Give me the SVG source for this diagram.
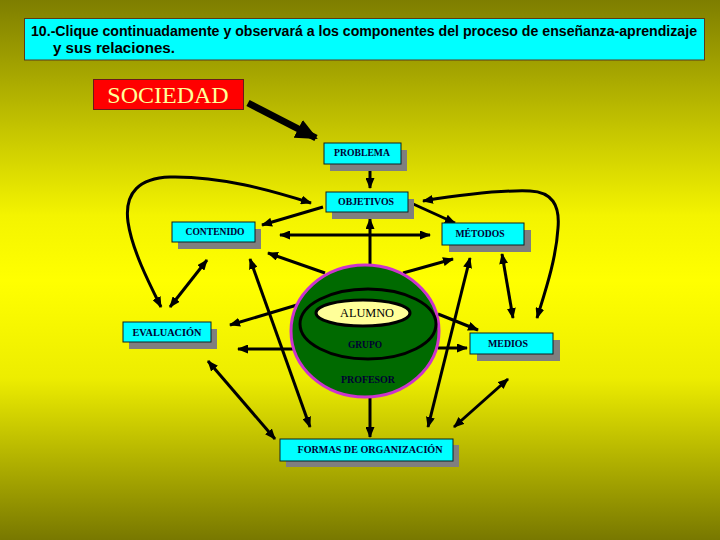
<svg xmlns="http://www.w3.org/2000/svg" width="720" height="540" viewBox="0 0 720 540">
<defs>
<linearGradient id="bg" x1="0" y1="0" x2="0" y2="1">
<stop offset="0" stop-color="#7e7e00"/>
<stop offset="0.4" stop-color="#f4f400"/>
<stop offset="0.52" stop-color="#ffff00"/>
<stop offset="0.7" stop-color="#eded00"/>
<stop offset="1" stop-color="#787800"/>
</linearGradient>
<marker id="ah" markerUnits="userSpaceOnUse" markerWidth="11" markerHeight="9" refX="10" refY="4.5" orient="auto-start-reverse" viewBox="0 0 11 9">
<path d="M0,0 L11,4.5 L0,9 z" fill="#000"/>
</marker>
<marker id="big" markerUnits="userSpaceOnUse" markerWidth="22" markerHeight="20" refX="20" refY="10" orient="auto" viewBox="0 0 22 20">
<path d="M0,0 L22,10 L0,20 z" fill="#000"/>
</marker>
</defs>
<style>
.box{fill:#00ffff;stroke:#102020;stroke-width:1}
.sh{fill:#7f7f7f}
.lbl{font-family:"Liberation Serif","Times New Roman",serif;font-weight:bold;font-size:10px;fill:#000033;text-anchor:middle}
.c{fill:none;stroke:#000;stroke-width:3}
.d{marker-start:url(#ah);marker-end:url(#ah)}
.e{marker-end:url(#ah)}
.title{font-family:"Liberation Sans",Arial,sans-serif;font-weight:bold;font-size:14px;fill:#000}
</style>
<rect x="0" y="0" width="720" height="540" fill="url(#bg)"/>

<g id="titulo">
<rect x="24.5" y="18.5" width="680" height="41.5" fill="#00ffff" stroke="#5a3a1a" stroke-width="1"/>
<text class="title" x="31" y="36" textLength="666" lengthAdjust="spacingAndGlyphs">10.-Clique continuadamente y  observará  a los componentes del proceso de enseñanza-aprendizaje</text>
<text class="title" x="53" y="53" textLength="122" lengthAdjust="spacingAndGlyphs">y  sus  relaciones.</text>
</g>

<g id="connectors">
<line x1="248" y1="103" x2="316" y2="138" stroke="#000" stroke-width="7" marker-end="url(#big)"/>
<line class="c e" x1="370" y1="169" x2="370" y2="188"/>
<path class="c d" d="M161,307 C150,285 132,250 128,222 C124,192 140,178 170,177 C220,176 270,190 311,203"/>
<path class="c d" d="M423,201 C460,195 500,190 530,191 C552,192 560,205 558,228 C556,260 545,292 537,318"/>
<line class="c e" x1="323" y1="207" x2="262" y2="225"/>
<line class="c e" x1="411" y1="203" x2="455" y2="223"/>
<line class="c d" x1="280" y1="235" x2="430" y2="235"/>
<line class="c e" x1="370" y1="266" x2="370" y2="219"/>
<line class="c e" x1="325" y1="273" x2="268" y2="253"/>
<line class="c e" x1="403" y1="273" x2="453" y2="259"/>
<line class="c d" x1="207" y1="260" x2="170" y2="307"/>
<line class="c d" x1="250" y1="259" x2="310" y2="427"/>
<line class="c d" x1="470" y1="258" x2="428" y2="427"/>
<line class="c d" x1="502" y1="254" x2="513" y2="318"/>
<line class="c e" x1="297" y1="305" x2="230" y2="325"/>
<line class="c e" x1="293" y1="349" x2="238" y2="349"/>
<line class="c e" x1="438" y1="314" x2="478" y2="330"/>
<line class="c e" x1="438" y1="348" x2="467" y2="348"/>
<line class="c d" x1="208" y1="361" x2="275" y2="439"/>
<line class="c d" x1="508" y1="379" x2="454" y2="427"/>
<line class="c e" x1="370" y1="397" x2="370" y2="437"/>
</g>

<g id="sociedad">
<rect x="93.5" y="79.5" width="150" height="30" fill="#ff0000" stroke="#6a1a1a" stroke-width="1"/>
<text x="168" y="103" font-family="Liberation Serif,'Times New Roman',serif" font-size="24" fill="#ffff99" text-anchor="middle">SOCIEDAD</text>
</g>

<g id="problema">
<rect class="sh" x="330" y="150" width="77" height="21"/>
<rect class="box" x="324" y="143" width="77" height="21"/>
<text class="lbl" x="362" y="156" textLength="56" lengthAdjust="spacingAndGlyphs">PROBLEMA</text>
</g>

<g id="objetivos">
<rect class="sh" x="332" y="199" width="82" height="20"/>
<rect class="box" x="326" y="192" width="82" height="20"/>
<text class="lbl" x="366" y="204.5" textLength="56" lengthAdjust="spacingAndGlyphs">OBJETIVOS</text>
</g>

<g id="contenido">
<rect class="sh" x="178" y="229" width="83" height="20"/>
<rect class="box" x="172" y="222" width="83" height="20"/>
<text class="lbl" x="215" y="234.5" textLength="59" lengthAdjust="spacingAndGlyphs">CONTENIDO</text>
</g>

<g id="metodos">
<rect class="sh" x="449" y="230" width="82" height="22"/>
<rect class="box" x="442" y="223" width="82" height="22"/>
<text class="lbl" x="480" y="237" textLength="49" lengthAdjust="spacingAndGlyphs">MÉTODOS</text>
</g>

<g id="evaluacion">
<rect class="sh" x="129" y="329" width="88" height="20"/>
<rect class="box" x="123" y="322" width="88" height="20"/>
<text class="lbl" x="167" y="335.5" textLength="69" lengthAdjust="spacingAndGlyphs">EVALUACIÓN</text>
</g>

<g id="medios">
<rect class="sh" x="477" y="340" width="83" height="21"/>
<rect class="box" x="470" y="333" width="83" height="21"/>
<text class="lbl" x="508" y="347" textLength="40" lengthAdjust="spacingAndGlyphs">MEDIOS</text>
</g>

<g id="formas">
<rect class="sh" x="286" y="445" width="173" height="22"/>
<rect class="box" x="280" y="439" width="173" height="22"/>
<text class="lbl" x="370" y="452.5" textLength="145" lengthAdjust="spacingAndGlyphs">FORMAS DE  ORGANIZACIÓN</text>
</g>

<g id="circulo">
<ellipse cx="365" cy="331" rx="74" ry="66" fill="#006a00" stroke="#cc33cc" stroke-width="3"/>
<ellipse cx="368" cy="324" rx="68" ry="35" fill="none" stroke="#000" stroke-width="3"/>
<ellipse cx="363" cy="313" rx="47" ry="13" fill="#ffff99" stroke="#000" stroke-width="3"/>
<text x="367" y="317" font-family="Liberation Serif,'Times New Roman',serif" font-size="13" fill="#000" text-anchor="middle" textLength="54" lengthAdjust="spacingAndGlyphs">ALUMNO</text>
<text class="lbl" x="365" y="348" fill="#002200" textLength="34" lengthAdjust="spacingAndGlyphs">GRUPO</text>
<text class="lbl" x="368" y="383" textLength="54" lengthAdjust="spacingAndGlyphs">PROFESOR</text>
</g>
</svg>
